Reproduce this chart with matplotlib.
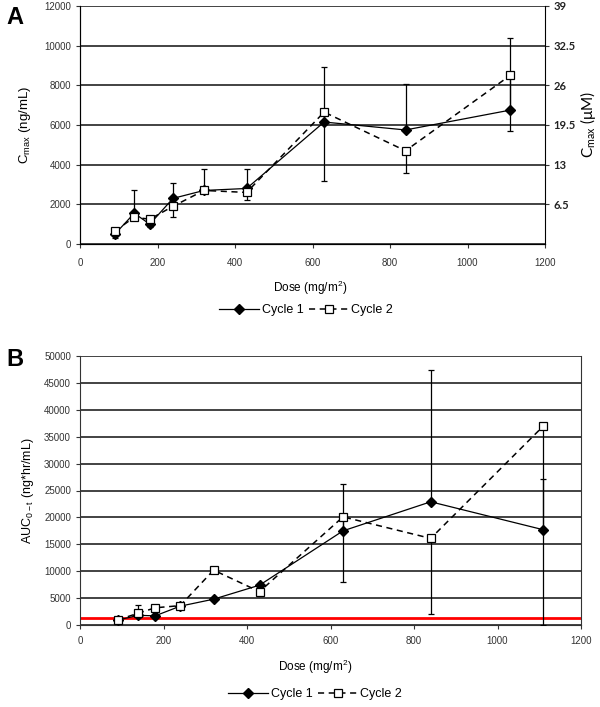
import matplotlib.pyplot as plt
import numpy as np

plt.rcParams['font.family'] = ['Liberation Sans', 'DejaVu Sans']
plt.rcParams['mathtext.default'] = 'regular'

# data
dose = [90, 140, 180, 240, 320, 430, 630, 840, 1110]

cmax_c1 = [500, 1550, 1000, 2300, 2700, 2800, 6150, 5750, 6750]
cmax_c1_up = [0, 1170, 0, 800, 1100, 1000, 2750, 2300, 3650]
cmax_c2 = [650, 1350, 1250, 1900, 2700, 2600, 6650, 4700, 8500]
cmax_c2_dn = [350, 0, 400, 550, 0, 400, 3450, 1100, 2800]

auc_c1 = [900, 1800, 1700, 3500, 4800, 7400, 17500, 22900, 17700]
auc_c1_up = [0, 1900, 0, 0, 0, 0, 8800, 24500, 9400]
auc_c2 = [950, 2200, 3200, 3600, 10200, 6200, 20100, 16100, 37000]
auc_c2_dn = [0, 0, 0, 0, 0, 900, 12100, 14100, 37000]

threshold = 1250  # red reference line in panel B
um_ticks = [6.5, 13, 19.5, 26, 32.5, 39]

W, H = 6.0, 7.07
fig = plt.figure(figsize=(W, H), dpi=100)


def px(l, t, r, b):
    return [l / 600, 1 - b / 707, (r - l) / 600, (b - t) / 707]


def draw(ax, y1, e1, y2, e2):
    z1 = np.zeros(len(dose))
    ax.errorbar(dose, y1, yerr=[z1, e1], fmt='none', ecolor='black',
                elinewidth=0.9, capsize=2.5, capthick=0.9, zorder=3)
    ax.errorbar(dose, y2, yerr=[e2, z1], fmt='none', ecolor='black',
                elinewidth=0.9, capsize=2.5, capthick=0.9, zorder=3)
    l1, = ax.plot(dose, y1, '-', color='black', lw=0.9, marker='D',
                  ms=5.5, mfc='black', mec='black', zorder=4, label='Cycle 1')
    l2, = ax.plot(dose, y2, '--', color='black', lw=1.1, dashes=(4, 3),
                  marker='s', ms=6, mfc='white', mec='black', mew=0.9,
                  zorder=5, label='Cycle 2')
    ax.set_xlim(0, 1200)
    ax.set_xticks(np.arange(0, 1201, 200))
    ax.grid(axis='y', color='#222222', lw=1.2)
    ax.set_axisbelow(True)
    ax.spines['top'].set_visible(False)
    for s in ax.spines.values():
        s.set_color('#333333')
    ax.tick_params(labelsize=7, length=3, color='#333333', labelcolor='#333333')
    return l1, l2


# panel A
axA = fig.add_axes(px(80, 6, 545, 244))
hA = draw(axA, cmax_c1, cmax_c1_up, cmax_c2, cmax_c2_dn)
axA.set_ylim(0, 12000)
axA.set_yticks(np.arange(0, 12001, 2000))
axA.tick_params(axis='x', pad=7)
axA.spines['right'].set_visible(False)
axA.set_ylabel('C$_{max}$ (ng/mL)', fontsize=9.5, labelpad=8)
axR = axA.twinx()
axR.set_ylim(0, 39)
axR.set_yticks(um_ticks)
axR.set_yticklabels([str(v) for v in um_ticks], fontfamily='Lato',
                    fontweight='bold', fontsize=8)
axR.tick_params(length=3, color='#333333', labelcolor='#222222', pad=3)
axR.spines['top'].set_visible(False)
axR.set_ylabel('C$_{max}$ (\u03bcM)', fontsize=11, family='Lato', labelpad=2)
fig.text(310 / 600, 1 - 288 / 707, 'Dose (mg/m$^2$)', ha='center', va='center', fontsize=8.5)
fig.legend(hA, ['Cycle 1', 'Cycle 2'], loc='center', ncol=2, frameon=False,
           bbox_to_anchor=(306 / 600, 1 - 310 / 707), fontsize=9,
           handlelength=3.2, columnspacing=0.4, handletextpad=0.2)
fig.text(6 / 600, 1 - 17 / 707, 'A', fontsize=17, fontweight='bold', va='center')

# panel B
axB = fig.add_axes(px(80, 356, 581, 625))
hB = draw(axB, auc_c1, auc_c1_up, auc_c2, auc_c2_dn)
axB.axhline(threshold, color='red', lw=2, zorder=2)
axB.set_ylim(0, 50000)
axB.set_yticks(np.arange(0, 50001, 5000))
axB.tick_params(axis='x', pad=5)
axB.set_ylabel('AUC$_{0-t}$ (ng*hr/mL)', fontsize=9, labelpad=6)
fig.text(315 / 600, 1 - 667 / 707, 'Dose (mg/m$^2$)', ha='center', va='center', fontsize=8.5)
fig.legend(hB, ['Cycle 1', 'Cycle 2'], loc='center', ncol=2, frameon=False,
           bbox_to_anchor=(315 / 600, 1 - 694 / 707), fontsize=9,
           handlelength=3.2, columnspacing=0.4, handletextpad=0.2)
fig.text(6 / 600, 1 - 360 / 707, 'B', fontsize=17, fontweight='bold', va='center')

fig.savefig('out.png', dpi=100)
